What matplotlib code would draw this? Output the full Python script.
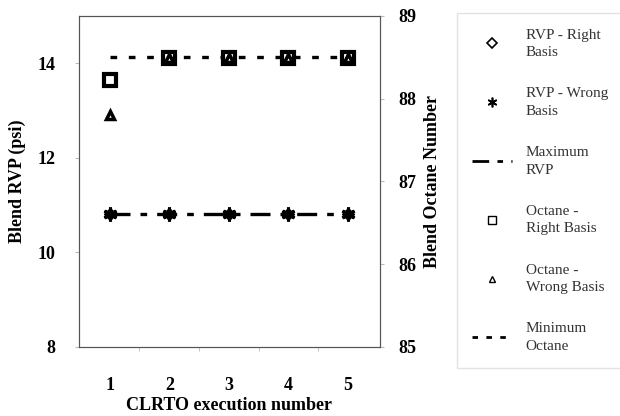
import matplotlib.pyplot as plt
from matplotlib.lines import Line2D

plt.rcParams['font.family'] = ['Liberation Serif', 'DejaVu Serif']

# データ
runs = [1, 2, 3, 4, 5]
rvp_right = [10.8, 10.8, 10.8, 10.8, 10.8]
rvp_wrong = [10.8, 10.8, 10.8, 10.8, 10.8]
max_rvp = [10.8, 10.8, 10.8, 10.8, 10.8]
oct_right = [88.23, 88.49, 88.49, 88.49, 88.49]
oct_wrong = [87.8, 88.49, 88.49, 88.49, 88.49]
min_oct = [88.5, 88.5, 88.5, 88.5, 88.5]

fig = plt.figure(figsize=(6.2, 4.16), dpi=100)
ax = fig.add_axes([0.127, 0.166, 0.486, 0.796])
ax2 = ax.twinx()

# RVP（左軸）
ax.plot(runs, max_rvp, color='black', lw=2.4, dashes=(6, 3, 2, 3), zorder=2)
ax.plot(runs, rvp_right, ls='none', marker='D', ms=6, mfc='black', mec='black', zorder=3)
ax.plot(runs, rvp_wrong, ls='none', marker=(6, 2, 0), ms=10, mec='black', mew=2.2, zorder=4)

# オクタン価（右軸）
ax2.plot(runs, min_oct, color='black', lw=2.4, dashes=(2, 3.5), zorder=2)
ax2.plot(runs, oct_right, ls='none', marker='s', ms=8, mfc='white', mec='black', mew=3, zorder=3)
ax2.plot(runs, oct_wrong, ls='none', marker='^', ms=6, mfc='white', mec='black', mew=2.5, zorder=4)

ax.set_xlim(0.48, 5.54)
ax.set_ylim(8, 15)
ax.set_yticks([8, 10, 12, 14])
ax2.set_ylim(85, 89)
ax2.set_yticks([85, 86, 87, 88, 89])

ax.set_xticks(runs)
ax.set_xticks([1.5, 2.5, 3.5, 4.5], minor=True)
ax.tick_params(axis='x', which='major', length=0, pad=22)
ax.tick_params(axis='x', which='minor', length=3, color='#bbbbbb')
ax.tick_params(axis='y', length=3, color='#bbbbbb', pad=14)
ax2.tick_params(axis='y', length=3, color='#bbbbbb', pad=10)

for a in (ax, ax2):
    for lab in a.get_xticklabels() + a.get_yticklabels():
        lab.set_fontsize(13)
        lab.set_fontweight('bold')
    for s in a.spines.values():
        s.set_color('#555555')

ax.set_xlabel('CLRTO execution number', fontsize=13, fontweight='bold', labelpad=2)
ax.set_ylabel('Blend RVP (psi)', fontsize=13, fontweight='bold', labelpad=8)
ax2.set_ylabel('Blend Octane Number', fontsize=13, fontweight='bold', labelpad=6)

handles = [
    Line2D([], [], ls='none', marker='D', ms=5, mfc='white', mec='black', mew=1.2),
    Line2D([], [], ls='none', marker=(6, 2, 0), ms=7, mec='black', mew=1.2),
    Line2D([], [], color='black', lw=2, dashes=(6, 3, 2, 3)),
    Line2D([], [], ls='none', marker='s', ms=6, mfc='white', mec='black', mew=1),
    Line2D([], [], ls='none', marker='^', ms=5, mfc='white', mec='black', mew=1),
    Line2D([], [], color='black', lw=2, dashes=(2, 3)),
]
labels = ['RVP - Right\nBasis', 'RVP - Wrong\nBasis', 'Maximum\nRVP',
          'Octane -\nRight Basis', 'Octane -\nWrong Basis', 'Minimum\nOctane']
leg = fig.legend(handles, labels, loc='upper left', bbox_to_anchor=(0.737, 0.968),
                 fontsize=11, frameon=True, fancybox=False, edgecolor='#dddddd',
                 labelspacing=1.85, handlelength=2.6, borderpad=1.0, handletextpad=0.9,
                 borderaxespad=0)
for t in leg.get_texts():
    t.set_color('#333333')
    t.set_linespacing(1.45)

fig.savefig('out.png', dpi=100)
